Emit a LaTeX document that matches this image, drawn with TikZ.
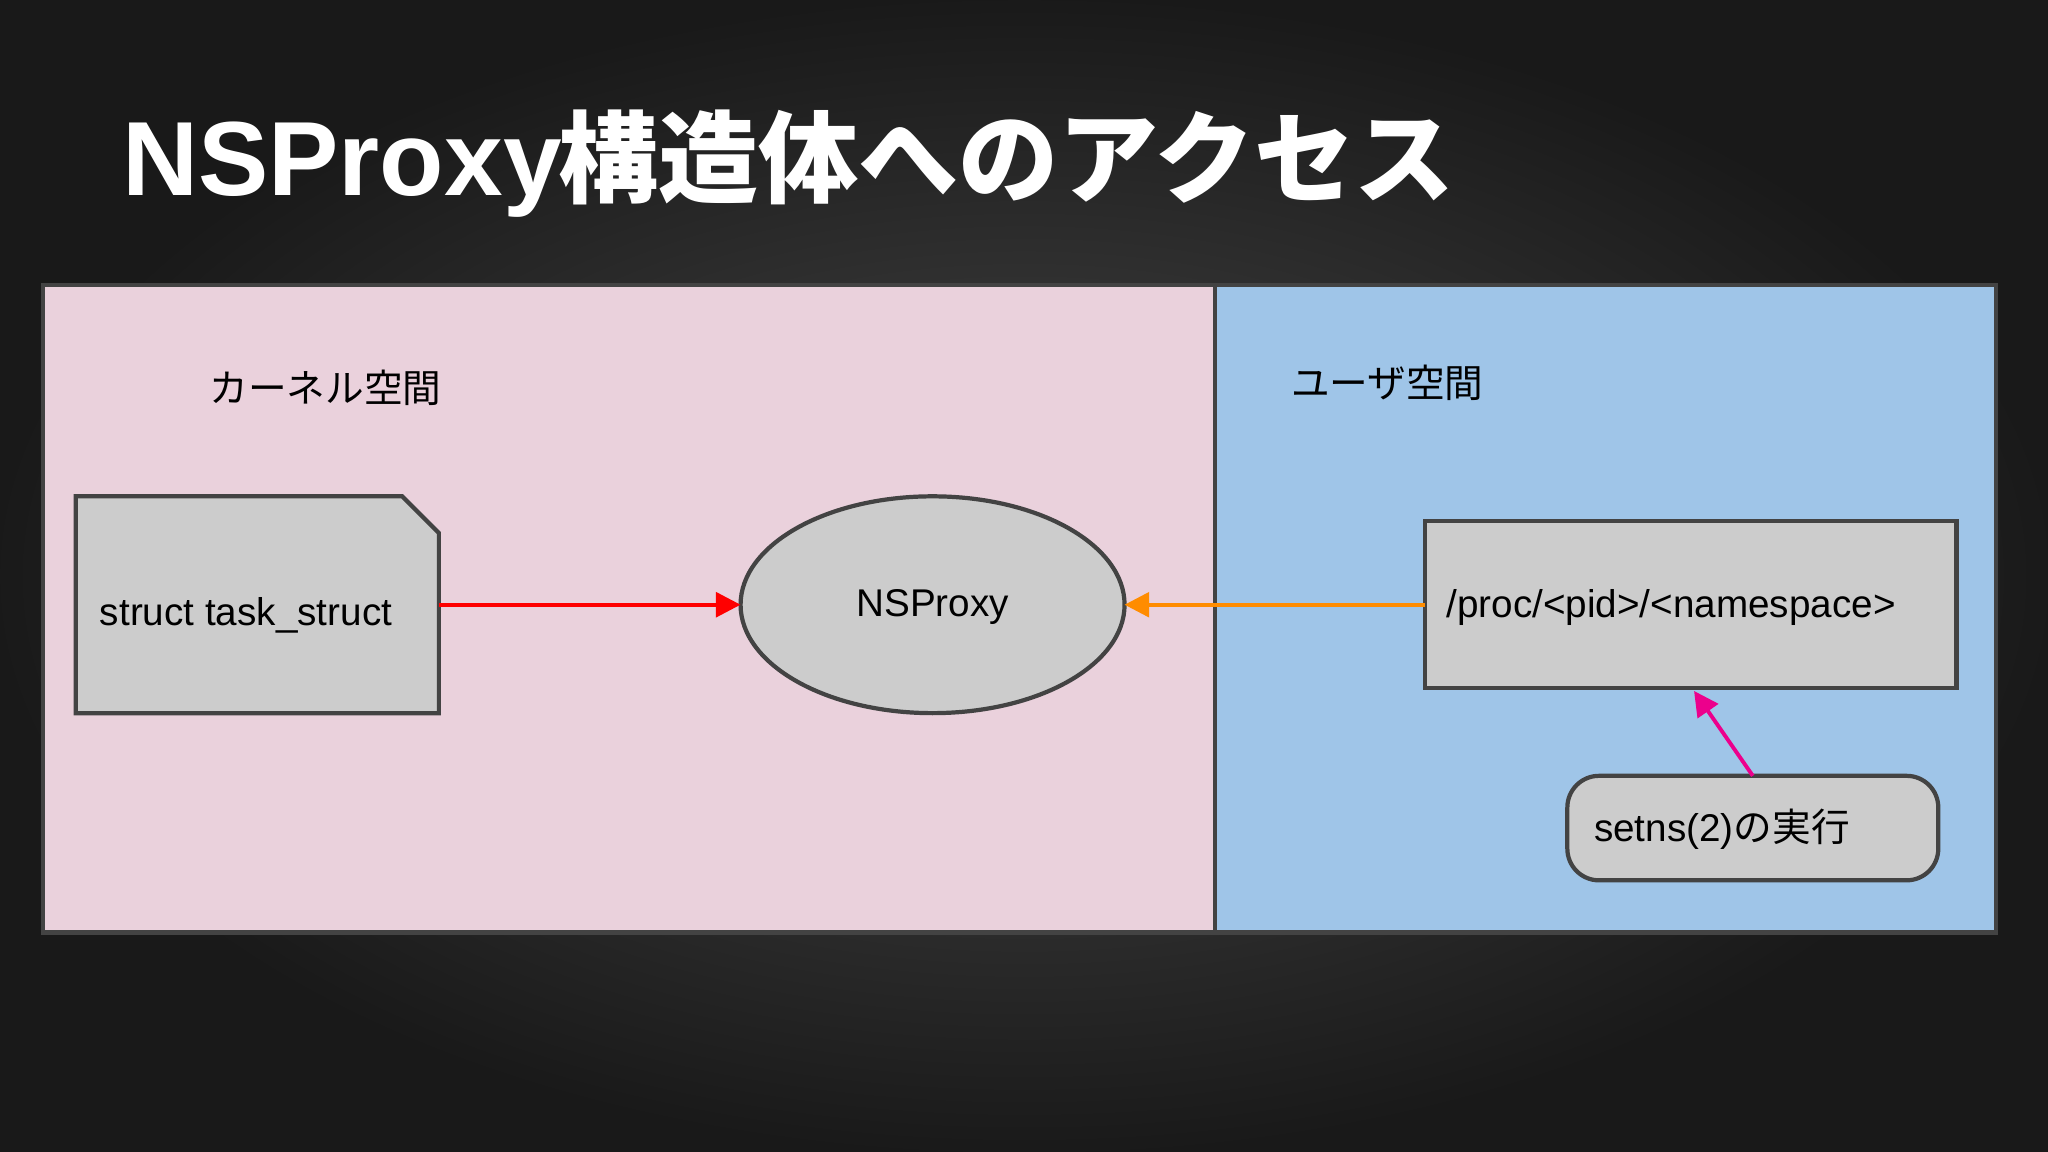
\documentclass[tikz,border=0pt]{standalone}
\usepackage{fontspec}
\setmainfont{Liberation Sans}
\newfontfamily\cjk{Noto Sans CJK JP}
\newfontfamily\cjkb{Noto Sans CJK JP Bold}
\usetikzlibrary{arrows.meta}
\definecolor{pinkbg}{HTML}{EAD1DC}
\definecolor{bluebg}{HTML}{9FC5E8}
\definecolor{boxgray}{HTML}{CCCCCC}
\definecolor{edge}{HTML}{434343}
\tikzset{
  shp/.style={draw=edge,line width=1.2pt,fill=boxgray},
  lbl/.style={font=\fontsize{11}{13}\selectfont,text=black},
  arr/.style={line width=1.1pt,-{Triangle[length=7pt,width=7pt]}}
}
\begin{document}
\begin{tikzpicture}[x=0.01306cm,y=-0.01306cm]
\useasboundingbox (0,0) rectangle (1568,882);
\shade[inner color=black!72,outer color=black!90] (0,0) rectangle (1568,882);
\node[anchor=base west,text=white,inner sep=0] (title) at (93,150) {\fontsize{30}{36}\selectfont\bfseries NSProxy\cjkb\kern-1pt\fontsize{28.5}{36}\selectfont 構造体へのアクセス};
\fill[pinkbg] (33,218) rectangle (930,714);
\fill[bluebg] (930,218) rectangle (1528,714);
\draw[edge,line width=1.2pt] (33,218) rectangle (1528,714);
\draw[edge,line width=1.2pt] (930,218) -- (930,714);
\node[lbl,font=\cjk\fontsize{11}{13}\selectfont,anchor=west] (kern) at (151,297) {カーネル空間};
\node[lbl,font=\cjk\fontsize{11}{13}\selectfont,anchor=west] (user) at (979,293) {ユーザ空間};
\draw[shp] (58,380) -- (308,380) -- (336,408) -- (336,546) -- (58,546) -- cycle;
\node[lbl,anchor=west] (task) at (67,471) {struct task\_struct};
\coordinate (taskE) at (336,463);
\draw[shp] (714,463) ellipse [x radius=147,y radius=83];
\node[lbl] (ns) at (714,465) {NSProxy};
\coordinate (nsW) at (567,463);
\coordinate (nsE) at (861,463);
\draw[shp] (1091,399) rectangle (1498,527);
\node[lbl,anchor=west] (proc) at (1098,465) {/proc/<pid>/<namespace>};
\coordinate (procW) at (1091,463);
\coordinate (procB) at (1297,529);
\draw[shp,rounded corners=9pt] (1200,594) rectangle (1484,674);
\node[lbl,anchor=west] (setns) at (1211,635) {setns(2){\cjk の実行}};
\coordinate (setnsT) at (1342,594);
\draw[arr,red] (taskE) -- (nsW);
\draw[arr,orange!90!yellow] (procW) -- (nsE);
\draw[arr,magenta] (setnsT) -- (procB);
\end{tikzpicture}
\end{document}
